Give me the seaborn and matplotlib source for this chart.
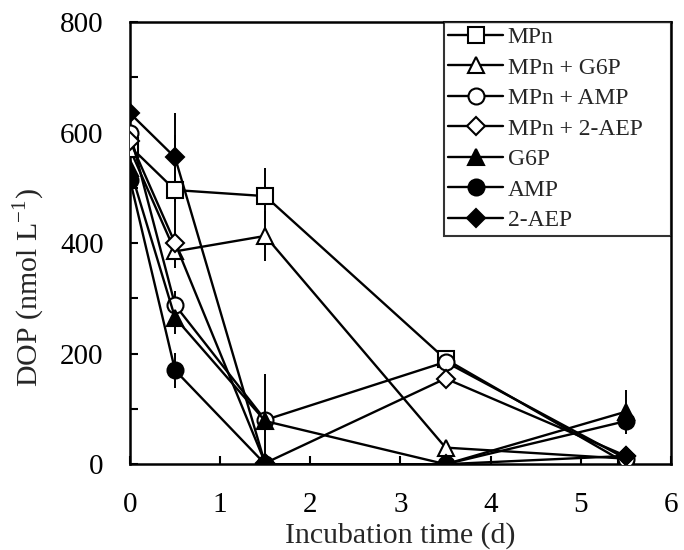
import numpy as np
import pandas as pd
import matplotlib
matplotlib.use("Agg")
import matplotlib.pyplot as plt
import seaborn as sns

# ==========================================
# DATA
# ==========================================
days = [0, 0.5, 1.5, 3.5, 5.5]

series_names = ["MPn", "MPn + G6P", "MPn + AMP", "MPn + 2-AEP", "G6P", "AMP", "2-AEP"]

mpn = [575, 496, 485, 190, 2]
mpn_g6p = [570, 385, 413, 30, 10]
mpn_amp = [600, 288, 80, 185, 10]
mpn_aep = [585, 400, 2, 155, 15]
g6p = [535, 265, 78, 0, 95]
amp = [515, 170, 0, 0, 78]
aep = [635, 555, 0, 0, 15]

mpn_err = [0, 100, 50, 0, 0]
mpn_g6p_err = [0, 30, 45, 0, 0]
mpn_amp_err = [0, 25, 0, 0, 0]
mpn_aep_err = [0, 0, 0, 0, 0]
g6p_err = [0, 30, 85, 0, 40]
amp_err = [0, 32, 0, 0, 0]
aep_err = [0, 80, 0, 0, 0]

values = [mpn, mpn_g6p, mpn_amp, mpn_aep, g6p, amp, aep]
errors = [mpn_err, mpn_g6p_err, mpn_amp_err, mpn_aep_err, g6p_err, amp_err, aep_err]

markers = ["s", "^", "o", "D", "^", "o", "D"]
fills = ["white", "white", "white", "white", "black", "black", "black"]
sizes = [11, 11.5, 11.5, 9.5, 11.5, 11.5, 9.5]

rows = []
for name, vals, errs in zip(series_names, values, errors):
    for d, v, e in zip(days, vals, errs):
        rows.append({"day": d, "DOP": v, "err": e, "series": name})
df = pd.DataFrame(rows)

# ==========================================
# PLOT
# ==========================================
sns.set_theme(style="ticks")
plt.rcParams["font.family"] = ["Liberation Serif", "DejaVu Serif"]
plt.rcParams["mathtext.fontset"] = "stix"

fig = plt.figure(figsize=(6.84, 5.5), dpi=100)
ax = fig.add_axes([0.19, 0.156, 0.791, 0.804])

# error bars first, so markers sit on top
for name in series_names:
    sub = df[df["series"] == name]
    sub = sub[sub["err"] > 0]
    if len(sub):
        ax.errorbar(sub["day"], sub["DOP"], yerr=sub["err"], fmt="none",
                    ecolor="black", elinewidth=1.4, capsize=0, zorder=2)

for i, name in enumerate(series_names):
    sub = df[df["series"] == name]
    sns.lineplot(data=sub, x="day", y="DOP", ax=ax, color="black", lw=1.7,
                 marker=markers[i], markersize=sizes[i], markerfacecolor=fills[i],
                 markeredgecolor="black", markeredgewidth=1.5, label=name,
                 estimator=None, sort=False, zorder=3 + i)

ax.set_xlim(0, 6)
ax.set_ylim(0, 800)
ax.set_xticks(range(0, 7))
yt = list(range(0, 801, 100))
ax.set_yticks(yt)
ax.set_yticklabels([str(v) if v % 200 == 0 else "" for v in yt])
ax.tick_params(direction="in", length=6, width=1.5, labelsize=21, colors="black")
ax.tick_params(axis="x", pad=20)
ax.tick_params(axis="y", pad=19)
for s in ax.spines.values():
    s.set_linewidth(1.8)
    s.set_color("black")

ax.set_xlabel("Incubation time (d)", fontsize=21.5, labelpad=3)
ax.set_ylabel("DOP (nmol L$^{\\mathregular{-1}}$)", fontsize=21.5)
# the y label sits a little below the middle of the axis in the reference
ax.yaxis.set_label_coords(-0.155, 0.40)

leg = ax.legend(loc="upper left", bbox_to_anchor=(0.58, 0.6, 0.42, 0.4), mode="expand",
                borderaxespad=0, fontsize=17, frameon=True, fancybox=False,
                edgecolor="black", handlelength=2.3, handletextpad=0.2,
                labelspacing=0.38, borderpad=0.2)
leg.get_frame().set_linewidth(1.5)

fig.savefig("out.png", dpi=100)
